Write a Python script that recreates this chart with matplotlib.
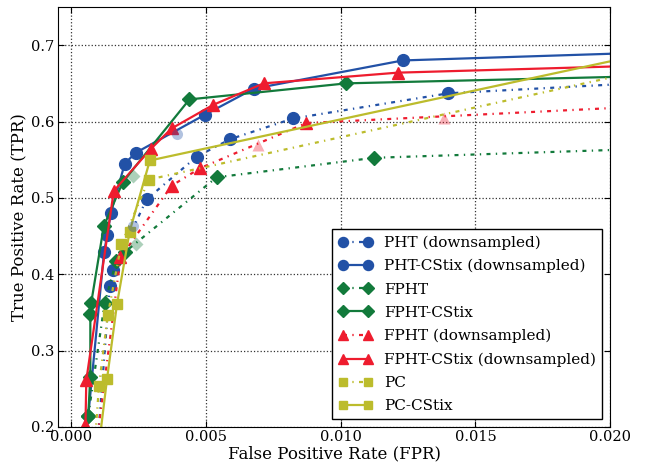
import numpy as np
import matplotlib
matplotlib.use('Agg')
import matplotlib.pyplot as plt
from matplotlib.ticker import FormatStrFormatter

plt.rcParams['font.family'] = ['DejaVu Serif']

# ROC points (FPR, TPR); last/first points run off the axes
pht_x = [0.00095, 0.00142, 0.00154, 0.00279, 0.00465, 0.00590, 0.00823, 0.01400, 0.0220]
pht_y = [0.170, 0.384, 0.405, 0.498, 0.554, 0.577, 0.604, 0.637, 0.652]

pht_cs_x = [0.00050, 0.00121, 0.00133, 0.00146, 0.00198, 0.00238, 0.00496, 0.00677, 0.01230, 0.0220]
pht_cs_y = [0.170, 0.429, 0.452, 0.480, 0.545, 0.559, 0.609, 0.643, 0.680, 0.691]

fpht_x = [0.00062, 0.00123, 0.00167, 0.00198, 0.00539, 0.01124, 0.0220]
fpht_y = [0.214, 0.362, 0.418, 0.429, 0.527, 0.5525, 0.565]

fpht_cs_x = [0.00062, 0.00070, 0.00070, 0.00073, 0.00120, 0.00191, 0.00438, 0.01021, 0.0220]
fpht_cs_y = [0.214, 0.266, 0.348, 0.362, 0.463, 0.521, 0.629, 0.650, 0.660]

fphtd_x = [0.00090, 0.00182, 0.00372, 0.00478, 0.00872, 0.0220]
fphtd_y = [0.170, 0.422, 0.516, 0.539, 0.598, 0.621]

fphtd_cs_x = [0.00052, 0.00055, 0.00157, 0.00294, 0.00372, 0.00527, 0.00714, 0.01211, 0.0220]
fphtd_cs_y = [0.203, 0.261, 0.509, 0.564, 0.591, 0.622, 0.650, 0.664, 0.674]

pc_x = [0.00085, 0.00102, 0.00135, 0.00185, 0.00287, 0.0220]
pc_y = [0.170, 0.254, 0.347, 0.439, 0.524, 0.673]

pc_cs_x = [0.00100, 0.00132, 0.00169, 0.00216, 0.00291, 0.0220]
pc_cs_y = [0.170, 0.263, 0.361, 0.456, 0.549, 0.694]

# faint (washed out) markers seen in the reference
faint_pht = ([0.00392, 0.00228], [0.584, 0.463])
faint_fpht = ([0.00228, 0.00241], [0.529, 0.439])
faint_fphtd = ([0.00694, 0.01384], [0.569, 0.604])

blue = '#2251a6'
green = '#127a3b'
red = '#ee1c2e'
olive = '#bcbc2c'

dotted = (0, (1.8, 2.4, 0.6, 2.4))

fig = plt.figure(figsize=(6.49, 4.66), dpi=100)
ax = fig.add_axes([0.0894, 0.0837, 0.8506, 0.9013])

ax.plot(pht_x, pht_y, ls=dotted, lw=1.6, color=blue, marker='o', ms=8.5, mec=blue,
        label='PHT (downsampled)')
ax.plot(pht_cs_x, pht_cs_y, ls='-', lw=1.6, color=blue, marker='o', ms=8.5, mec=blue,
        label='PHT-CStix (downsampled)')
ax.plot(fpht_x, fpht_y, ls=dotted, lw=1.6, color=green, marker='D', ms=7.5, mec=green,
        label='FPHT')
ax.plot(fpht_cs_x, fpht_cs_y, ls='-', lw=1.6, color=green, marker='D', ms=7.5, mec=green,
        label='FPHT-CStix')
ax.plot(fphtd_x, fphtd_y, ls=dotted, lw=1.6, color=red, marker='^', ms=8.5, mec=red,
        label='FPHT (downsampled)')
ax.plot(fphtd_cs_x, fphtd_cs_y, ls='-', lw=1.6, color=red, marker='^', ms=8.5, mec=red,
        label='FPHT-CStix (downsampled)')
ax.plot(pc_x, pc_y, ls=dotted, lw=1.6, color=olive, marker='s', ms=7.5, mec=olive,
        label='PC')
ax.plot(pc_cs_x, pc_cs_y, ls='-', lw=1.6, color=olive, marker='s', ms=7.5, mec=olive,
        label='PC-CStix')

ax.plot(*faint_pht, ls='none', marker='o', ms=8, color=blue, alpha=0.35, mec='none')
ax.plot(*faint_fpht, ls='none', marker='D', ms=7, color=green, alpha=0.35, mec='none')
ax.plot(*faint_fphtd, ls='none', marker='^', ms=8, color=red, alpha=0.35, mec='none')

ax.set_xlim(-0.0005, 0.020)
ax.set_ylim(0.2, 0.75)
ax.set_xticks([0.0, 0.005, 0.010, 0.015, 0.020])
ax.set_yticks([0.2, 0.3, 0.4, 0.5, 0.6, 0.7])
ax.xaxis.set_major_formatter(FormatStrFormatter('%.3f'))
ax.yaxis.set_major_formatter(FormatStrFormatter('%.1f'))
ax.tick_params(direction='in', top=True, right=True, length=4, labelsize=10.5, pad=2.5)
ax.grid(True, ls=':', color='#333333', lw=0.9)

ax.set_xlabel('False Positive Rate (FPR)', fontsize=12, labelpad=1)
ax.set_ylabel('True Positive Rate (TPR)', fontsize=12, labelpad=2)

leg = ax.legend(loc='lower right', fontsize=11, fancybox=False, framealpha=1,
                edgecolor='black', labelspacing=0.6, handlelength=2.2,
                numpoints=2, markerscale=0.85, borderaxespad=0.5)
leg.get_frame().set_linewidth(1.0)

fig.savefig('out.png', dpi=100)
